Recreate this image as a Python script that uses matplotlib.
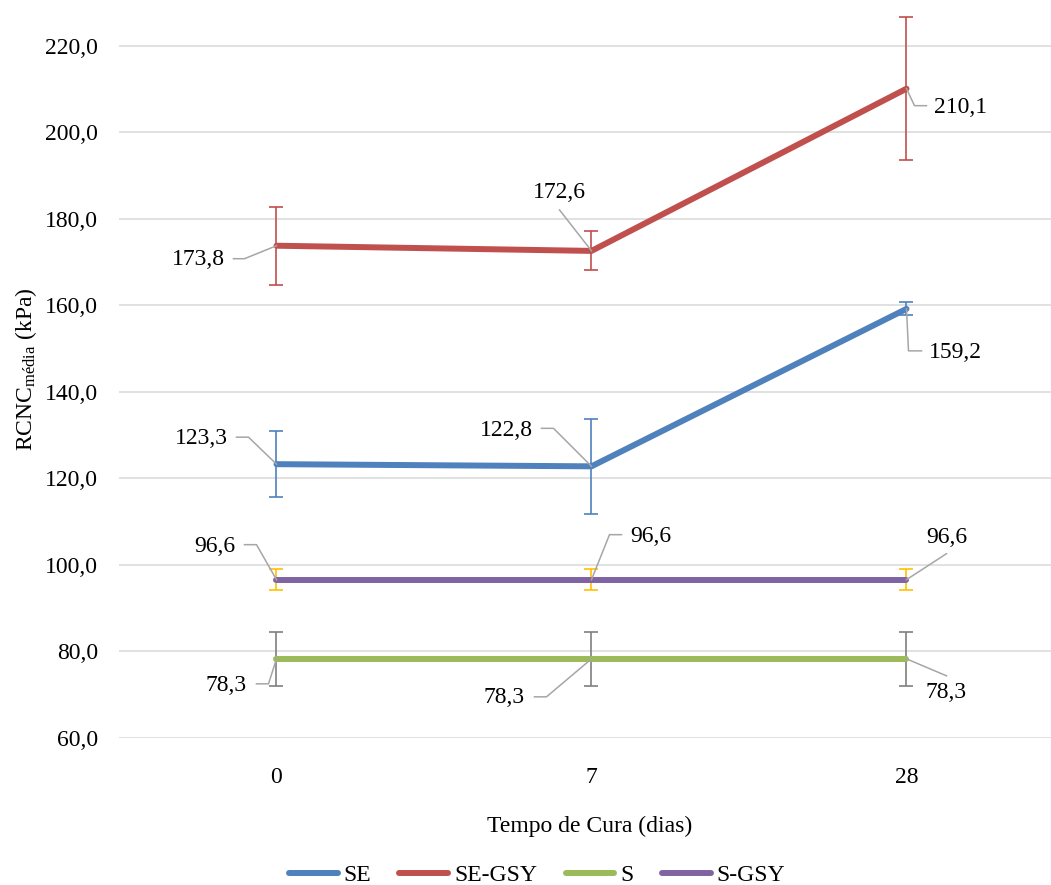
import numpy as np
import matplotlib
matplotlib.use("Agg")
import matplotlib.pyplot as plt

plt.rcParams['font.family'] = ['Liberation Serif', 'DejaVu Serif']
plt.rcParams['mathtext.default'] = 'regular'

# data
dias = ['0', '7', '28']
series = ['SE', 'SE-GSY', 'S', 'S-GSY']
se = [123.3, 122.8, 159.2]
se_gsy = [173.8, 172.6, 210.1]
s = [78.3, 78.3, 78.3]
s_gsy = [96.6, 96.6, 96.6]
err_se = [7.7, 11.0, 1.5]
err_se_gsy = [9.0, 4.5, 16.6]
err_s = [6.3, 6.3, 6.3]
err_s_gsy = [2.4, 2.4, 2.4]

line_cols = ['#4F81BD', '#C0504D', '#9BBB59', '#8064A2']
err_cols = ['#4F81BD', '#C0504D', '#7F7F7F', '#FFC000']

# label placement: text centre offset (px, y down) and leader path offsets
label_pos = {
    'SE': [((-75, -26), [(-40, -27), (-28, -27)]),
           ((-85, -36), [(-50, -38), (-38, -38)]),
           ((49, 44), [(15, 42), (2, 42)])],
    'SE-GSY': [((-78, 14), [(-43, 13), (-32, 13)]),
               ((-32, -58), [(-32, -41)]),
               ((54, 19), [(20, 17), (8, 17)])],
    'S': [((-50, 27), [(-20, 25), (-8, 25)]),
          ((-87, 39), [(-57, 38), (-45, 38)]),
          ((40, 34), [(40, 17)])],
    'S-GSY': [((-62, -33), [(-32, -35), (-20, -35)]),
              ((59, -43), [(30, -45), (18, -45)]),
              ((40, -42), [(40, -26)])],
}

fig = plt.figure(figsize=(10.51, 8.85), dpi=100)
W, H = 1051, 885
ax = fig.add_axes([119 / W, 1 - 738 / H, 945 / W, 738 / H])

x = np.arange(len(dias))
vals = [se, se_gsy, s, s_gsy]
errs = [err_se, err_se_gsy, err_s, err_s_gsy]

for v, e, lc, ec, name in zip(vals, errs, line_cols, err_cols, series):
    ax.errorbar(x, v, yerr=e, fmt='none', ecolor=ec, elinewidth=1.2,
                capsize=5, capthick=1.2, zorder=2, clip_on=False)
    ax.plot(x, v, color=lc, lw=4.3, solid_capstyle='round', label=name, zorder=3)

ax.set_xlim(-0.5, 2.5)
ax.set_ylim(60, 230.6)
ax.set_yticks(np.arange(60, 221, 20))
ax.set_yticklabels([f'{t:.1f}'.replace('.', ',') for t in np.arange(60, 221, 20)])
ax.set_xticks(x)
ax.set_xticklabels(dias)
ax.tick_params(axis='both', length=0, labelsize=17)
ax.tick_params(axis='y', pad=15)
ax.tick_params(axis='x', pad=21)
ax.grid(axis='y', color='#D9D9D9', lw=1.1)
ax.set_axisbelow(True)
for sp in ax.spines.values():
    sp.set_visible(False)

ax.set_ylabel('RCNC$_{\\mathregular{média}}$ (kPa)', fontsize=17, labelpad=4)
fig.text(590 / W, 1 - 826 / H, 'Tempo de Cura (dias)', fontsize=17,
         ha='center', va='center')

# data labels with leader lines
to_data = ax.transData.inverted()
for v, name in zip(vals, series):
    for i, (txt_off, path) in enumerate(label_pos[name]):
        px, py = ax.transData.transform((x[i], v[i]))
        pts = [(px + dx, py - dy) for dx, dy in path] + [(px, py)]
        dpts = to_data.transform(pts)
        ax.plot(dpts[:, 0], dpts[:, 1], color='#A6A6A6', lw=1.1, zorder=4, clip_on=False)
        tx, ty = to_data.transform((px + txt_off[0], py - txt_off[1]))
        ax.text(tx, ty, f'{v[i]:.1f}'.replace('.', ','), fontsize=17,
                ha='center', va='center', zorder=5)

fig.legend(loc='center', bbox_to_anchor=(537 / W, 1 - 875 / H), ncol=4,
           frameon=False, fontsize=17, handlelength=2.07, handletextpad=0.25,
           columnspacing=1.2, borderaxespad=0)

fig.savefig('out.png', dpi=100)
